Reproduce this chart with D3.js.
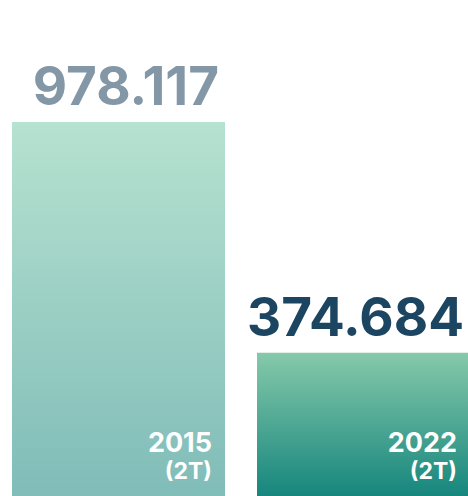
<!DOCTYPE html>
<html>
<head>
<meta charset="utf-8">
<script src="https://d3js.org/d3.v7.min.js"></script>
<style>
  body { margin: 0; background: #fff; }
  text { font-family: Inter, "Open Sans", sans-serif; }
</style>
</head>
<body>
<svg width="468" height="496"></svg>
<script>
  // data
  var years = ["2015", "2022"];
  var periods = ["(2T)", "(2T)"];
  var values = [978117, 374684];
  var valueLabels = ["978.117", "374.684"];

  var svg = d3.select("svg");
  var width = +svg.attr("width");
  var height = +svg.attr("height");

  var xScale = d3.scaleBand()
      .domain(years)
      .range([12, 470])
      .paddingInner(0.1306)
      .paddingOuter(0);

  var yScale = d3.scaleLinear()
      .domain([0, d3.max(values)])
      .range([height, 122]);

  // gradients for each bar
  var grads = [
      {id: "g0", top: "#b6e2d0", bottom: "#80bcb8"},
      {id: "g1", top: "#86c9aa", bottom: "#16867d"}
  ];
  var defs = svg.append("defs");
  grads.forEach(function (g) {
      var lg = defs.append("linearGradient")
          .attr("id", g.id)
          .attr("x1", 0).attr("y1", 0).attr("x2", 0).attr("y2", 1);
      lg.append("stop").attr("offset", "0%").attr("stop-color", g.top);
      lg.append("stop").attr("offset", "100%").attr("stop-color", g.bottom);
  });

  var valueColors = ["#8397a7", "#1c4562"];

  var gs = svg.selectAll(".bar")
      .data(values)
      .enter()
      .append("g")
      .attr("class", "bar");

  gs.append("rect")
      .attr("x", function (d, i) { return xScale(years[i]); })
      .attr("y", function (d) { return yScale(d); })
      .attr("width", xScale.bandwidth())
      .attr("height", function (d) { return height - yScale(d); })
      .attr("fill", function (d, i) { return "url(#" + grads[i].id + ")"; });

  // big value above the bar, right aligned
  gs.append("text")
      .attr("x", function (d, i) { return xScale(years[i]) + xScale.bandwidth() - 6; })
      .attr("y", function (d) { return yScale(d) - 17; })
      .attr("text-anchor", "end")
      .attr("font-size", 53)
      .attr("font-weight", 700)
      .attr("fill", function (d, i) { return valueColors[i]; })
      .text(function (d, i) { return valueLabels[i]; });

  // year + period inside the bar, bottom right
  gs.append("text")
      .attr("x", function (d, i) { return xScale(years[i]) + xScale.bandwidth() - 13; })
      .attr("y", height - 44)
      .attr("text-anchor", "end")
      .attr("font-size", 27)
      .attr("font-weight", 700)
      .attr("fill", "#fff")
      .text(function (d, i) { return years[i]; });

  gs.append("text")
      .attr("x", function (d, i) { return xScale(years[i]) + xScale.bandwidth() - 13; })
      .attr("y", height - 17)
      .attr("text-anchor", "end")
      .attr("font-size", 23)
      .attr("font-weight", 700)
      .attr("fill", "#fff")
      .text(function (d, i) { return periods[i]; });
</script>
</body>
</html>
